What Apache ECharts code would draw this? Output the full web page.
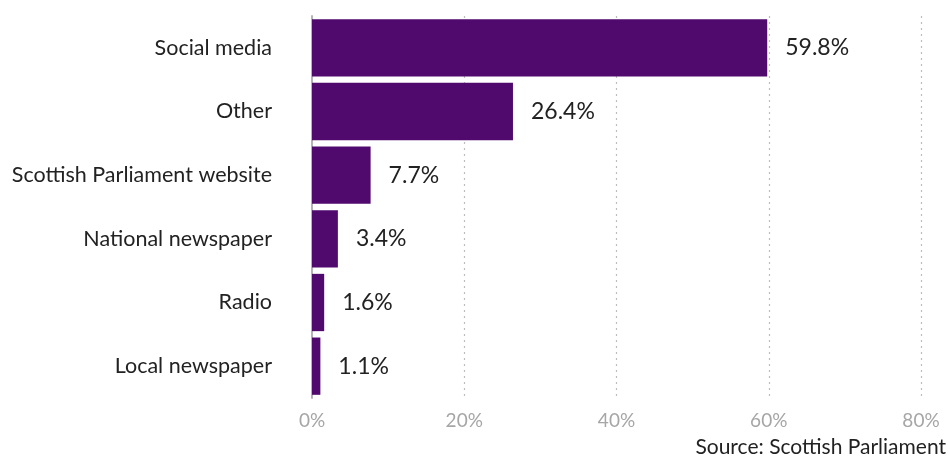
<!DOCTYPE html>
<html>
<head>
<meta charset="utf-8">
<script src="https://cdn.jsdelivr.net/npm/echarts@6/dist/echarts.min.js"></script>
<style>
  html, body { margin: 0; padding: 0; background: #fff; }
  #chart { width: 950px; height: 463px; }
</style>
</head>
<body>
<div id="chart"></div>
<script>
// Where respondents heard about it (share of responses, %)
const categories = [
  'Social media',
  'Other',
  'Scottish Parliament website',
  'National newspaper',
  'Radio',
  'Local newspaper'
];
const shares = [59.8, 26.4, 7.7, 3.4, 1.6, 1.1];
const tickValues = [0, 20, 40, 60, 80];
const sourceText = 'Source: Scottish Parliament';

const FONT = 'Lato, "Open Sans", sans-serif';
const BAR = '#500a6e';

const chart = echarts.init(document.getElementById('chart'), null, { renderer: 'canvas' });

chart.setOption({
  animation: false,
  grid: { left: 312, right: 29, top: 16, height: 382, containLabel: false },
  xAxis: {
    type: 'value',
    min: tickValues[0],
    max: tickValues[tickValues.length - 1],
    interval: 20,
    axisLine: { show: false },
    axisTick: { show: false },
    axisLabel: {
      formatter: v => v + '%',
      color: '#a6a6a6',
      fontFamily: FONT,
      fontSize: 19,
      margin: 13
    },
    splitLine: {
      show: true,
      lineStyle: { color: '#bdbdbd', type: [2, 4], width: 1.2 }
    }
  },
  yAxis: {
    type: 'category',
    data: categories,
    inverse: true,
    axisLine: { show: true, lineStyle: { color: '#b5b5b5', width: 2 } },
    axisTick: { show: false },
    axisLabel: {
      color: '#222',
      fontFamily: FONT,
      fontSize: 21.5,
      margin: 40,
      padding: [5, 0, 0, 0]
    }
  },
  series: [{
    type: 'bar',
    data: shares,
    barCategoryGap: '10%',
    itemStyle: { color: BAR },
    label: {
      show: true,
      position: 'right',
      distance: 18,
      formatter: p => p.value.toFixed(1) + '%',
      color: '#222',
      fontFamily: FONT,
      fontSize: 23,
      padding: [5, 0, 0, 0]
    }
  }],
  graphic: [{
    type: 'text',
    right: 4,
    bottom: 5,
    style: {
      text: sourceText,
      fill: '#222',
      font: '21px ' + FONT
    }
  }]
});
</script>
</body>
</html>
